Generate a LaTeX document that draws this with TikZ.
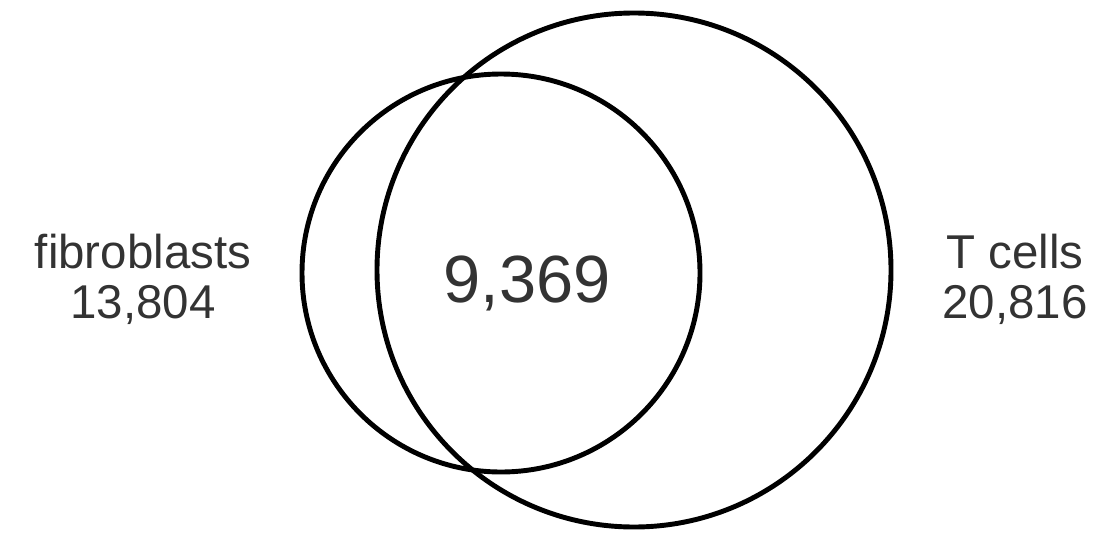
\documentclass[tikz,border=0pt]{standalone}
\usepackage{fontspec}
\setmainfont{Liberation Sans}

\begin{document}
\begin{tikzpicture}
		\useasboundingbox (0,0) rectangle (22.32,10.64);
		\tikzset{ring/.style={line width=2.8pt, draw=black},
			setlabel/.style={anchor=base, text=black!80, font=\fontsize{27}{30}\selectfont}}
		\draw[ring] (10.02,5.18) circle (3.98);
		\draw[ring] (12.68,5.24) circle (5.14);
		\node[setlabel] (fib) at (2.86,5.28) {fibroblasts};
		\node[setlabel] (fibn) at (2.86,4.28) {13,804};
		\node[setlabel] (tc) at (20.3,5.28) {T cells};
		\node[setlabel] (tcn) at (20.3,4.28) {20,816};
		\node[setlabel, font=\fontsize{38}{42}\selectfont] (both) at (10.54,4.6) {9,369};
		\end{tikzpicture}
\end{document}
